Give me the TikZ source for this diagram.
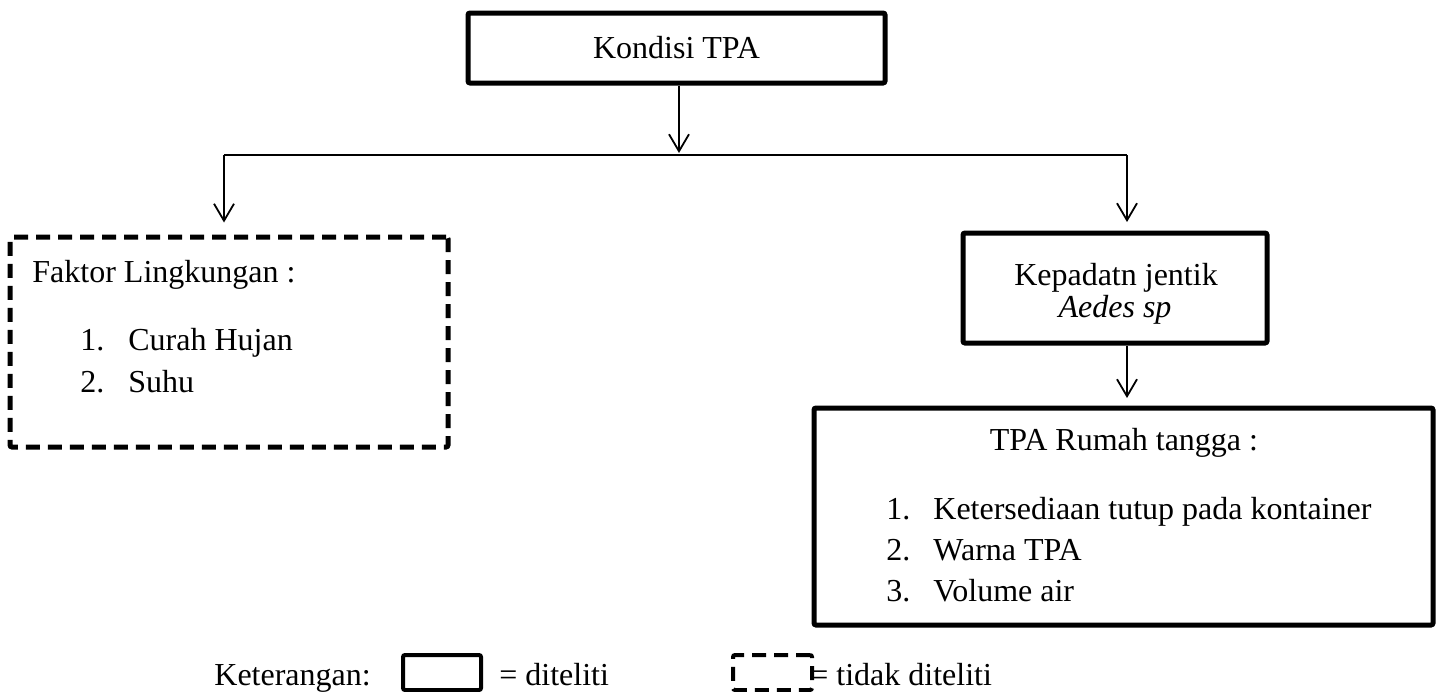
\documentclass[tikz,border=0pt]{standalone}
\usepackage{fontspec}
\setmainfont{Liberation Serif}
\usetikzlibrary{arrows.meta}

\tikzset{
	txt/.style = {font=\fontsize{16}{19}\selectfont, inner sep=0pt},
	box/.style = {draw, line width=2.5pt, rounded corners=1pt},
	dashbox/.style = {box, dash pattern=on 7pt off 4pt},
	link/.style = {line width=0.9pt},
	arr/.style = {link, -{Straight Barb[length=8.5pt, width=10pt, line width=0.9pt]}}
}

\begin{document}
\begin{tikzpicture}[x=0.5pt, y=-0.5pt, every node/.style={txt}]
	\useasboundingbox (0,0) rectangle (1440,691);

	% boxes
	\node[box, minimum width=208.5pt, minimum height=35pt] (kondisi) at (676.5,48) {Kondisi TPA};
	\node[dashbox, minimum width=219pt, minimum height=105pt] (faktor) at (229,342) {};
	\node[box, minimum width=152pt, minimum height=55pt] (jentik) at (1115,288) {};
	\node[box, minimum width=309.5pt, minimum height=108.5pt] (rumah) at (1123.5,516.5) {};

	% texts in the boxes
	\node[anchor=base west] (faktorHead) at (32,282) {Faktor Lingkungan :};
	\node[anchor=base west] (faktorNo1) at (80,350) {1.};
	\node[anchor=base west] (faktorIt1) at (128,350) {Curah Hujan};
	\node[anchor=base west] (faktorNo2) at (80,392) {2.};
	\node[anchor=base west] (faktorIt2) at (128,392) {Suhu};

	\node[anchor=base] (jentikA) at (1116,285) {Kepadatn jentik};
	\node[anchor=base] (jentikB) at (1115,317) {\itshape Aedes sp};

	\node[anchor=base] (rumahHead) at (1124,450) {TPA Rumah tangga :};
	\node[anchor=base west] (rumahNo1) at (886,519) {1.};
	\node[anchor=base west] (rumahIt1) at (933,519) {Ketersediaan tutup pada kontainer};
	\node[anchor=base west] (rumahNo2) at (886,560) {2.};
	\node[anchor=base west] (rumahIt2) at (933,560) {Warna TPA};
	\node[anchor=base west] (rumahNo3) at (886,601) {3.};
	\node[anchor=base west] (rumahIt3) at (933,601) {Volume air};

	% connectors
	\coordinate (split) at (679,155);
	\coordinate (splitL) at (224,155);
	\coordinate (splitR) at (1127,155);
	\draw[arr] (kondisi.south -| split) -- ([yshift=1pt]split);
	\draw[link] (splitL) -- (splitR);
	\draw[arr, shorten >=6pt] (splitL) -- (splitL |- faktor.north);
	\draw[arr, shorten >=4.25pt] (splitR) -- (splitR |- jentik.north);
	\draw[arr, shorten >=3.75pt] (jentik.south -| splitR) -- (rumah.north -| splitR);

	% legend
	\node[anchor=base west] (ket) at (214,685) {Keterangan:};
	\node[box, line width=2pt, minimum width=39pt, minimum height=17.5pt] (legSolid) at (442,672.5) {};
	\node[anchor=base west] (legSolidTxt) at (499,685) {= diteliti};
	\node[dashbox, line width=2pt, minimum width=39.5pt, minimum height=17.5pt] (legDash) at (772.5,672.5) {};
	\node[anchor=base west] (legDashTxt) at (810,685) {= tidak diteliti};
\end{tikzpicture}
\end{document}
